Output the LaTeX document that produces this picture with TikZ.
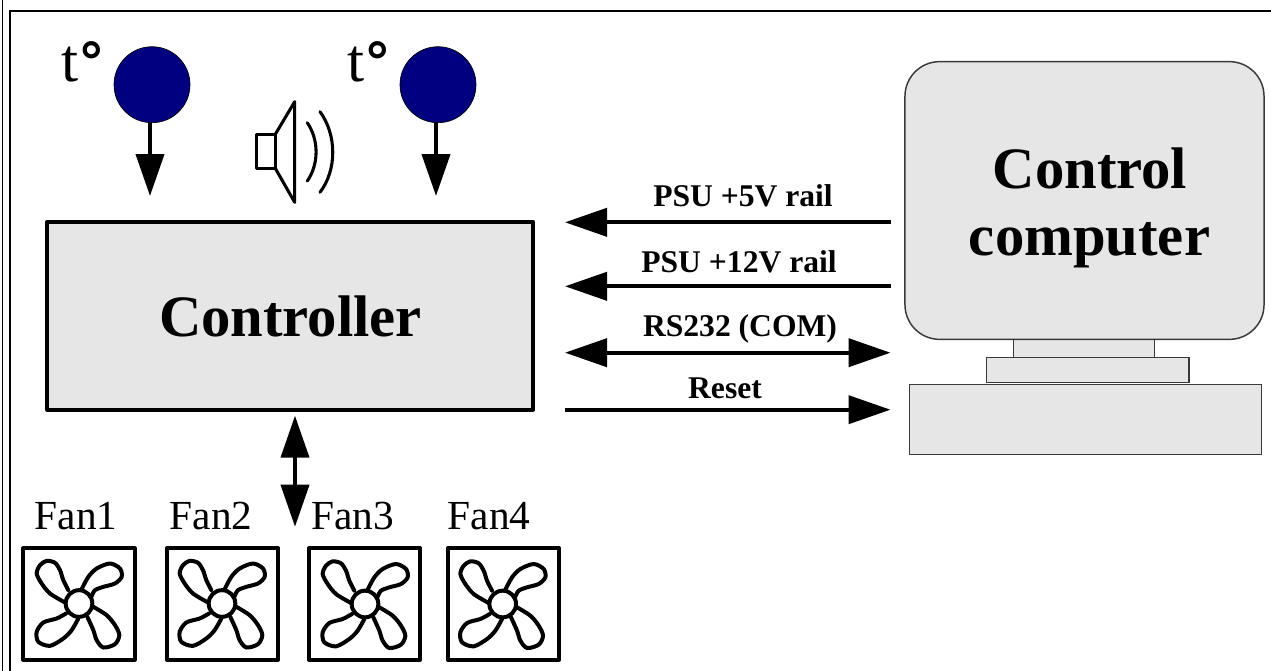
\documentclass[tikz,border=0pt]{standalone}
\usepackage{fontspec}
\setmainfont{Liberation Serif}
\newfontfamily\degfont{DejaVu Sans Bold}
\usetikzlibrary{arrows.meta}
\definecolor{boxgrey}{HTML}{E6E6E6}
\definecolor{sensorblue}{HTML}{000080}
\definecolor{edgegrey}{HTML}{3A3A3A}
\tikzset{
  bus/.style={line width=3pt,-{Triangle[length=31.5pt,width=21pt]}},
  busboth/.style={line width=3pt,{Triangle[length=31.5pt,width=21pt]}-{Triangle[length=31.5pt,width=21pt]}},
  framel/.style={line width=1.2pt,black},
  pcpart/.style={draw=edgegrey,fill=boxgrey,line width=1.1pt},
  big/.style={inner sep=0pt,anchor=base,font=\fontsize{44}{50}\selectfont\bfseries},
  buslabel/.style={inner sep=0pt,anchor=base,font=\fontsize{23.7}{26}\selectfont\bfseries},
  fanlabel/.style={inner sep=0pt,anchor=base,font=\fontsize{31}{34}\selectfont},
  templabel/.style={inner sep=0pt,anchor=base,font=\fontsize{46}{50}\selectfont},
  sensor/.style={circle,draw=black,fill=sensorblue,line width=.5pt,minimum size=57pt,inner sep=0pt},
  fanbox/.style={draw=black,line width=3pt,line join=round,minimum width=83.5pt,minimum height=83.5pt,inner sep=0pt},
  blade/.style={line width=3pt,line join=round,line cap=round,tension=.5},
  spk/.style={line width=2.3pt,line join=round,line cap=round},
}
\newcommand{\fanblades}[2]{%
\begin{scope}[shift={(#1,#2)},x=.25pt,y=-.25pt]
  \draw[blade] (0,0) circle[radius=40];
  \draw[blade] plot[smooth] coordinates {(-32,-40) (-47,-70) (-57,-100) (-72,-122) (-97,-128) (-117,-115) (-127,-90) (-112,-60) (-87,-30) (-42,-3)};
  \draw[blade] plot[smooth] coordinates {(8,-43) (28,-80) (53,-105) (93,-120) (123,-105) (128,-80) (108,-60) (73,-50) (48,-40) (38,-22)};
  \draw[blade] plot[smooth] coordinates {(43,10) (83,35) (108,65) (121,95) (108,122) (73,132) (53,110) (43,80) (25,40)};
  \draw[blade] plot[smooth] coordinates {(-39,30) (-67,45) (-107,57) (-127,85) (-122,115) (-87,127) (-47,105) (-22,80) (-2,45)};
\end{scope}}
\begin{document}
\begin{tikzpicture}[x=.75pt,y=-.75pt]
\useasboundingbox (0,0) rectangle (1271,671);
% frame
\coordinate (fa) at (2.5,0); \coordinate (fb) at (2.5,671);
\coordinate (fc) at (10,671); \coordinate (fd) at (10,11); \coordinate (fe) at (1271,11);
\draw[framel] (fa) -- (fb);
\draw[framel] (fc) -- (fd) -- (fe);
% controller
\node[draw=black,fill=boxgrey,line width=2.7pt,line join=round,minimum width=364.5pt,minimum height=141pt,inner sep=0pt] (ctrl) at (290.2,315.7) {};
\node[big] (ctrltext) at (290.5,336) {Controller};
% sensors
\node[sensor] (s1) at (152,84.7) {};
\node[sensor] (s2) at (438,84.7) {};
\node[templabel] (t1) at (83.5,81) {t{\degfont\fontsize{40}{44}\selectfont°}};
\node[templabel] (t2) at (369.5,81) {t{\degfont\fontsize{40}{44}\selectfont°}};
\coordinate (s1t) at (150,196); \coordinate (s1s) at (150,122);
\coordinate (s2t) at (436,196); \coordinate (s2s) at (436,122);
\draw[bus] (s1s) -- (s1t);
\draw[bus] (s2s) -- (s2t);
% speaker
\draw[spk] (256.7,134.3) rectangle (275.3,168.3);
\draw[spk] (275.3,134.3) -- (294.7,101.7) -- (294.7,202.3) -- (275.3,168.3);
\draw[spk] (307.3,122.7) .. controls (319,140) and (319,164) .. (307.3,181);
\draw[spk] (320,111.7) .. controls (337,135) and (337,170) .. (320,192.3);
% computer
\node[pcpart,minimum width=264pt,minimum height=52.8pt,inner sep=0pt] (case) at (1085.7,419.5) {};
\node[pcpart,minimum width=105.5pt,minimum height=14pt,inner sep=0pt] (stand) at (1084,348.2) {};
\node[pcpart,minimum width=151.7pt,minimum height=18.8pt,inner sep=0pt] (base) at (1087.8,369.8) {};
\node[pcpart,rounded corners=26pt,minimum width=269.3pt,minimum height=208.3pt,inner sep=0pt] (mon) at (1084.5,200.5) {};
\node[big] (mt1) at (1090,188) {Control};
\node[big] (mt2) at (1089.5,255.5) {computer};
% buses
\coordinate (b1a) at (890.5,222.3); \coordinate (b1b) at (565,222.3);
\coordinate (b2a) at (890.5,286.3); \coordinate (b2b) at (565,286.3);
\coordinate (b3a) at (890.5,352.7); \coordinate (b3b) at (565,352.7);
\coordinate (b4a) at (890.5,409.7); \coordinate (b4b) at (565,409.7);
\draw[bus] (b1a) -- (b1b);
\draw[bus] (b2a) -- (b2b);
\draw[busboth] (b3b) -- (b3a);
\draw[bus] (b4b) -- (b4a);
\node[buslabel] (l1) at (743,206.7) {PSU +5V rail};
\node[buslabel] (l2) at (739,272) {PSU +12V rail};
\node[buslabel] (l3) at (740,336.7) {RS232 (COM)};
\node[buslabel] (l4) at (725,398.3) {Reset};
% fan link
\coordinate (fl1) at (295,415.7); \coordinate (fl2) at (295,526.7);
\draw[busboth] (fl1) -- (fl2);
% fans
\node[fanbox] (f1) at (79,604) {};
\node[fanbox] (f2) at (222.5,604) {};
\node[fanbox] (f3) at (364.5,604) {};
\node[fanbox] (f4) at (503.5,604) {};
\fanblades{79}{603.5}
\fanblades{222}{603.5}
\fanblades{365}{604}
\fanblades{502.7}{604}
\node[fanlabel] (fl1t) at (76,529.3) {Fan1};
\node[fanlabel] (fl2t) at (211,529.3) {Fan2};
\node[fanlabel] (fl3t) at (352.5,529.3) {Fan3};
\node[fanlabel] (fl4t) at (489,529.3) {Fan4};
\end{tikzpicture}
\end{document}
